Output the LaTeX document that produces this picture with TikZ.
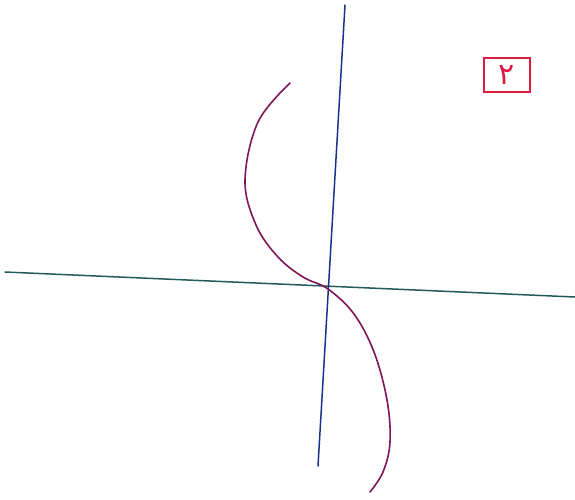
\documentclass[tikz,border=0pt]{standalone}
\usepackage{fontspec}
\newfontfamily\arabicfont[Script=Arabic]{DejaVu Sans}
\TeXXeTstate=1
\definecolor{axisblue}{rgb}{0.1,0.2,0.55}
\definecolor{axisgreen}{rgb}{0.15,0.35,0.35}
\definecolor{curvepurple}{rgb}{0.5,0.08,0.35}
\definecolor{labelred}{rgb}{0.85,0.1,0.25}
\begin{document}
\begin{tikzpicture}[x=1pt, y=-1pt, line cap=round]
      \useasboundingbox[fill=white] (0,0) rectangle (575,499);
      % Axes
      \coordinate (xl) at (5,272); \coordinate (xr) at (575,297);
      \coordinate (yt) at (345,5); \coordinate (yb) at (318,466);
      \draw[axisgreen, line width=1.5pt] (xl) -- (xr);
      \draw[axisblue, line width=1.5pt] (yt) -- (yb);
      
      % Curve through the origin
      \draw[curvepurple, line width=1.6pt] plot[smooth, tension=0.6] coordinates {
        (290,83) (258,122) (245,180) (256,225) (278,257) (303,277) (328,289)
        (354,314) (374,352) (387,400) (390,442) (383,472) (370,492)};
      
      % Label in the box
      \node[draw=labelred, line width=1.5pt, minimum width=46pt, minimum height=34pt,
            text=labelred, font=\arabicfont\fontsize{30}{30}\selectfont, inner sep=0pt]
            (lbl) at (507,75) {\beginR ٢\endR};
    \end{tikzpicture}
\end{document}
